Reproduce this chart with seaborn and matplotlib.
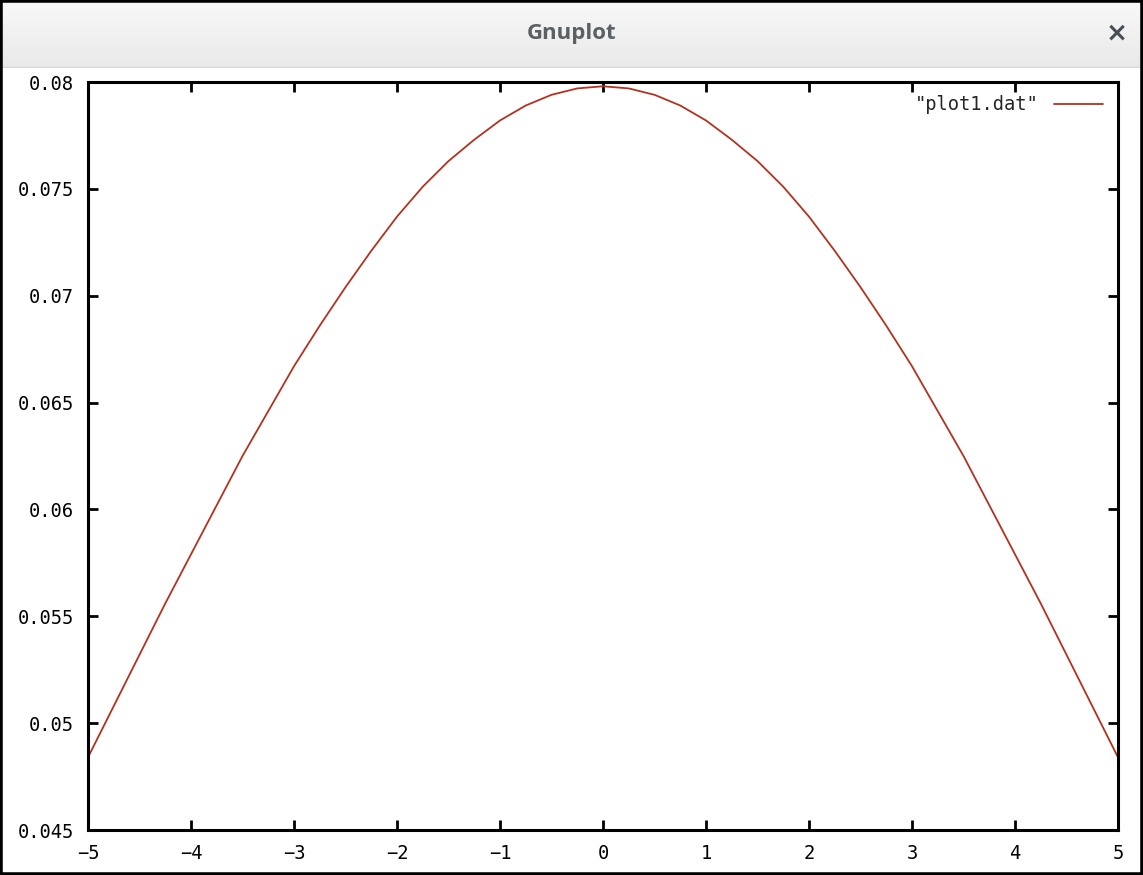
import numpy as np
import matplotlib
matplotlib.use("Agg")
import matplotlib.pyplot as plt
import seaborn as sns
from matplotlib.patches import Rectangle

# values
x_values = [-5.0, -4.75, -4.5, -4.25, -4.0, -3.75, -3.5, -3.25, -3.0, -2.75,
            -2.5, -2.25, -2.0, -1.75, -1.5, -1.25, -1.0, -0.75, -0.5, -0.25,
            0.0, 0.25, 0.5, 0.75, 1.0, 1.25, 1.5, 1.75, 2.0, 2.25,
            2.5, 2.75, 3.0, 3.25, 3.5, 3.75, 4.0, 4.25, 4.5, 4.75, 5.0]
y_values = [0.0484, 0.0508, 0.0532, 0.0556, 0.0579, 0.0602, 0.0625, 0.0646,
            0.0667, 0.0686, 0.0704, 0.0721, 0.0737, 0.0751, 0.0763, 0.0773,
            0.0782, 0.0789, 0.0794, 0.0797, 0.0798, 0.0797, 0.0794, 0.0789,
            0.0782, 0.0773, 0.0763, 0.0751, 0.0737, 0.0721, 0.0704, 0.0686,
            0.0667, 0.0646, 0.0625, 0.0602, 0.0579, 0.0556, 0.0532, 0.0508,
            0.0484]
x_ticks = [-5, -4, -3, -2, -1, 0, 1, 2, 3, 4, 5]
y_ticks = [0.045, 0.05, 0.055, 0.06, 0.065, 0.07, 0.075, 0.08]
y_tick_labels = ["0.045", "0.05", "0.055", "0.06", "0.065", "0.07", "0.075", "0.08"]
legend_label = '"plot1.dat"'
window_title = "Gnuplot"
line_color = "#b3321f"

W, H = 1143, 875

sns.set_style("white")
plt.rcParams["font.family"] = ["DejaVu Sans Mono", "DejaVu Sans"]

fig = plt.figure(figsize=(W / 100, H / 100), dpi=100)
fig.patch.set_facecolor("white")

# window title bar with a soft gradient
bar = fig.add_axes([0, 1 - 68 / H, 1, 68 / H])
grad = np.linspace(0.975, 0.915, 50).reshape(-1, 1)
bar.imshow(np.dstack([grad, grad, grad]), aspect="auto", extent=[0, 1, 0, 1])
bar.set_xlim(0, 1)
bar.set_ylim(0, 1)
bar.axis("off")
bar.text(0.5, 0.5, window_title, ha="center", va="center", fontsize=16,
         fontweight="bold", color="#5b6066", family=["Open Sans", "DejaVu Sans"])
bar.text(1117 / W, 0.5, "\u00d7", ha="center", va="center", fontsize=19,
         fontweight="bold", color="#4a4f55", family=["DejaVu Sans"])
bar.axhline(0.01, color="#d8d8d8", linewidth=1)

# plot area
ax = fig.add_axes([88 / W, 1 - 830 / H, (1118 - 88) / W, (830 - 82) / H])
sns.lineplot(x=x_values, y=y_values, color=line_color, linewidth=1.3,
             label=legend_label, ax=ax)

ax.set_xlim(-5, 5)
ax.set_ylim(0.045, 0.08)
ax.set_xticks(x_ticks)
ax.set_xticklabels([str(t) if t >= 0 else "\u2212" + str(-t) for t in x_ticks])
ax.set_yticks(y_ticks)
ax.set_yticklabels(y_tick_labels)
for s in ax.spines.values():
    s.set_visible(True)
    s.set_color("black")
    s.set_linewidth(2.2)
ax.tick_params(direction="in", length=7, width=2, top=True, right=True,
               bottom=True, left=True, labelsize=13.5, colors="black")
ax.tick_params(axis="y", pad=10)
ax.tick_params(axis="x", pad=10)

leg = ax.legend(loc="upper right", frameon=False, markerfirst=False,
                handlelength=2.6, fontsize=13.5, borderaxespad=0.3,
                bbox_to_anchor=(0.998, 1.0))
for line in leg.get_lines():
    line.set_linewidth(1.3)

# outer window border
fig.patches.append(Rectangle((0, 0), 1, 1, transform=fig.transFigure,
                             fill=False, edgecolor="black", linewidth=4))

fig.savefig("out.png", dpi=100)
